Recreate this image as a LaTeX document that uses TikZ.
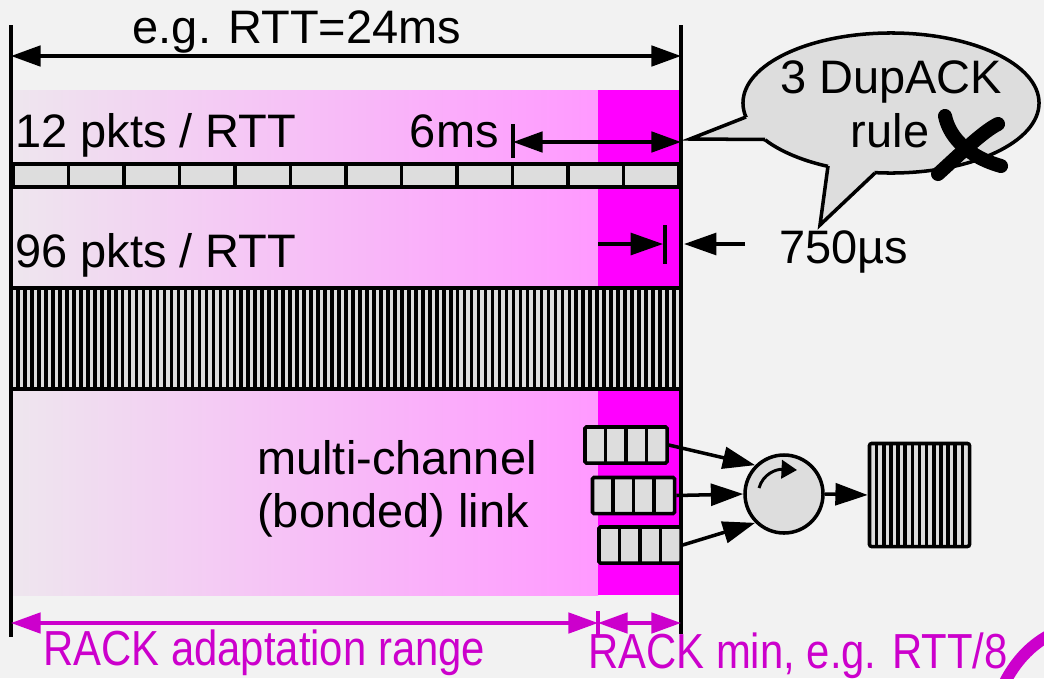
\documentclass[tikz,border=0pt]{standalone}
\usepackage{fontspec}
\setmainfont{Liberation Sans}
\usepackage{graphicx}
\usetikzlibrary{arrows.meta,calc,positioning}
\definecolor{bggray}{HTML}{F2F2F2}
\definecolor{pktgray}{HTML}{DDDDDD}
\definecolor{rackfade}{HTML}{EEE6EE}
\definecolor{rackpink}{HTML}{FF99FF}
\definecolor{rackmag}{HTML}{FF00FF}
\definecolor{rackpurple}{HTML}{CC00CC}
\tikzset{
  lbl/.style={font=\fontsize{33.4}{37}\selectfont, inner sep=0pt},
  racklbl/.style={font=\fontsize{35}{40}\selectfont, text=rackpurple, inner sep=0pt},
  thickline/.style={line width=2.5pt},
  headarr/.style={thickline, -{Triangle[length=23pt,width=15.5pt]}},
  dimarr/.style={thickline, {Triangle[length=21pt,width=14.5pt]}-{Triangle[length=21pt,width=14.5pt]}},
  queue/.style={draw, fill=pktgray, thickline, rounded corners=1pt,
    minimum width=2.05cm, minimum height=0.9cm, inner sep=0pt,
    path picture={
      \foreach \k in {1,2,3}
        \draw[thickline] ($(path picture bounding box.south west)!\k/4!(path picture bounding box.south east)$)
          -- ($(path picture bounding box.north west)!\k/4!(path picture bounding box.north east)$);}},
  outbox/.style={draw, fill=pktgray, thickline, rounded corners=1.5pt,
    minimum width=2.5cm, minimum height=2.575cm, inner sep=0pt,
    path picture={
      \foreach \k in {1,...,13}
        \draw[line width=2.6pt] ($(path picture bounding box.south west)!\k/14!(path picture bounding box.south east)$)
          -- ($(path picture bounding box.north west)!\k/14!(path picture bounding box.north east)$);}},
}

\begin{document}
\begin{tikzpicture}[x=0.025cm, y=-0.025cm]
  \useasboundingbox (0,0) rectangle (1044,678);
  \fill[bggray] (0,0) rectangle (1044,678);

  % RACK window shading
  \shade[left color=rackfade, right color=rackpink] (11,90) rectangle (598,595);
  \fill[rackmag] (598,90) rectangle (683,595);

  % 12 packets per RTT
  \foreach \i in {0,...,11}
    \draw[thickline, fill=pktgray] (13+\i*55.5,164) rectangle (13+\i*55.5+55.5,187);

  % 96 packets per RTT
  \draw[thickline, fill=pktgray] (11,288) rectangle (681,389);
  \foreach \i in {1,...,95}
    \draw[line width=2.6pt] (11+\i*6.979,288) -- (11+\i*6.979,389);

  % RTT markers
  \coordinate (lt) at (11,25);
  \coordinate (lb) at (11,637);
  \coordinate (rt) at (681,25);
  \coordinate (rb) at (681,634);
  \draw[thickline] (lt) -- (lb);
  \draw[thickline] (rt) -- (rb);
  \coordinate (rttl) at (11,56);
  \coordinate (rttr) at (681,56);
  \draw[dimarr] (rttl) -- (rttr);
  \node[lbl, anchor=base] (rtt) at (297,43) {e.g. RTT=24ms};

  \node[lbl, anchor=base west] (slow) at (15,147) {12 pkts / RTT};
  \node[lbl, anchor=base west] (fast) at (15,267) {96 pkts / RTT};

  % 6ms gap
  \coordinate (sixa) at (513,142);
  \coordinate (sixb) at (681,142);
  \draw[thickline] (513,124) -- (513,158);
  \draw[dimarr] (sixa) -- (sixb);
  \node[lbl, anchor=base east] (sixms) at (499,147) {6ms};

  % 750us gap
  \coordinate (usa) at (598,244);
  \coordinate (usb) at (663,244);
  \coordinate (usc) at (745,244);
  \coordinate (usd) at (684,244);
  \draw[headarr] (usa) -- (usb);
  \draw[thickline] (665,225) -- (665,264);
  \draw[headarr] (usc) -- (usd);
  \node[lbl, anchor=base west] (usec) at (779,263) {750µs};

  % speech bubble
  \filldraw[fill=pktgray, thickline] (891,103) ellipse [x radius=3.7cm, y radius=1.75cm];
  \fill[pktgray] (756,118) -- (746,117) -- (690,139) -- (765,139.5) -- (772,133) -- cycle;
  \draw[thickline, line join=miter] (746,117) -- (690,139) -- (765,139.5);
  \fill[pktgray] (830,160) -- (828,166) -- (820,225) -- (875,173) -- (872,164) -- cycle;
  \draw[thickline, line join=miter] (828,166) -- (820,225) -- (875,173);
  \node[lbl, anchor=base] (dup) at (891,93) {3 DupACK};
  \node[lbl, anchor=base] (rule) at (890,147) {rule};
  % cross
  \draw[line width=10pt, line cap=round] (945,116) .. controls (950,140) and (972,158) .. (1001,166);
  \draw[line width=10pt, line cap=round] (998,124) .. controls (982,132) and (958,156) .. (938,174);

  % multi-channel link
  \node[lbl, anchor=base west, align=left] (link) at (257,527) {multi-channel\\(bonded) link};
  \node[queue] (q1) at (626,445) {};
  \node[queue] (q2) at (633.5,495.5) {};
  \node[queue] (q3) at (640,545) {};
  \node[draw, circle, fill=pktgray, thickline, minimum size=1.95cm, inner sep=0pt] (sched) at (784,494) {};
  \node[outbox] (out) at (919.5,495) {};
  \draw[headarr] (q1.east) -- (sched.north west);
  \draw[headarr] (q2.east) -- (sched.west);
  \draw[headarr] (q3.east) -- (sched.south west);
  \draw[headarr] (sched.east) -- (out.west);
  \draw[line width=2.1pt, -{Triangle[length=11pt,width=13pt]}]
    ($(sched)+(-25,-6)$) .. controls ($(sched)+(-21,-20)$) and ($(sched)+(-8,-25)$) .. ($(sched)+(13,-24)$);

  % RACK ranges
  \coordinate (ra) at (11,623);
  \coordinate (rb2) at (598,623);
  \coordinate (rc) at (681,623);
  \draw[dimarr, rackpurple] (ra) -- (rb2);
  \draw[thickline, rackpurple] (598,611) -- (598,636);
  \draw[dimarr, rackpurple] (rb2) -- (rc);
  \node[racklbl, anchor=base west] (adapt) at (43,665) {\scalebox{0.85}[1]{RACK adaptation range}};
  \node[racklbl, anchor=base west] (rackmin) at (588,668) {\scalebox{0.85}[1]{RACK min, e.g. RTT/8}};
  \draw[rackpurple, line width=8.5pt] (1004,684) .. controls (1015,662) and (1030,646) .. (1048,636);
\end{tikzpicture}
\end{document}
